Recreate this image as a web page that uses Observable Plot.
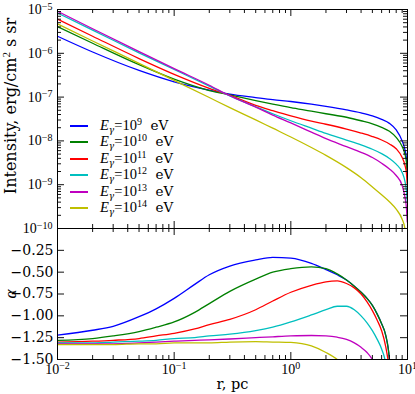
<!DOCTYPE html>
<html>
<head>
<meta charset="utf-8">
<script src="https://cdn.jsdelivr.net/npm/d3@7"></script>
<script src="https://cdn.jsdelivr.net/npm/@observablehq/plot@0.6"></script>
<style>
  html, body { margin: 0; padding: 0; background: #fff; }
  #fig { position: relative; width: 415px; height: 394px; overflow: hidden; font-family: "DejaVu Serif", serif; color: #000; }
  #fig svg { overflow: visible; background: transparent; }
  .lab { position: absolute; white-space: nowrap; line-height: 1; }
  .rot { transform: translate(-50%, -50%) rotate(-90deg); }
  .math { font-family: "Liberation Serif", serif; }
  #legend { position: absolute; left: 70px; top: 117.5px; }
  #legend .row { height: 16.5px; display: flex; align-items: center; }
  #legend .sw { display: inline-block; width: 18px; height: 1.6px; margin-right: 12px; }
  #legend .txt { font-size: 14.5px; line-height: 16.5px; white-space: nowrap; }
  #legend .sub { font-family: "DejaVu Serif", serif; font-style: italic; font-size: 9px; position: relative; top: 3px; }
  #legend .sup { font-size: 10px; position: relative; top: -5px; }
  #legend .ev { font-family: "DejaVu Serif", serif; font-size: 13.5px; }
</style>
</head>
<body>
<div id="fig">
  <div id="top" style="position:absolute;left:0;top:0"></div>
  <div id="bot" style="position:absolute;left:0;top:228px"></div>
  <div class="lab rot" style="left:10.5px;top:106px;font-size:16px;">Intensity, erg/cm<span class="math" style="font-size:11px;position:relative;top:-6px">2</span> s sr</div>
  <div class="lab rot math" style="left:10px;top:294px;font-size:17px;font-style:italic;">α</div>
  <div id="legend"></div>
</div>
<script>
// ---- data ----
const energyExponents = [9, 10, 11, 12, 13, 14];
const seriesColors = ["#0000ff", "#008000", "#ff0000", "#00bfbf", "#bf00bf", "#bfbf00"];

// radius grid (pc) for the intensity panel
const radius = [0.01, 0.02, 0.05, 0.1, 0.2, 0.3, 0.5, 0.7, 1, 1.5, 2, 3, 4, 5, 6, 7, 8, 9, 9.5, 9.8, 9.95];
// log10 intensity (erg/cm^2 s sr)
const logIntensityE9  = [-5.61,-5.97,-6.39,-6.65,-6.84,-6.93,-7.01,-7.06,-7.10,-7.16,-7.21,-7.29,-7.36,-7.43,-7.51,-7.60,-7.75,-8.00,-8.20,-8.40,-8.70];
const logIntensityE10 = [-5.39,-5.77,-6.26,-6.59,-6.85,-6.95,-7.08,-7.16,-7.24,-7.32,-7.38,-7.46,-7.54,-7.61,-7.69,-7.78,-7.92,-8.13,-8.30,-8.50,-8.80];
const logIntensityE11 = [-5.22,-5.61,-6.12,-6.48,-6.80,-6.96,-7.19,-7.31,-7.43,-7.55,-7.62,-7.73,-7.82,-7.90,-7.98,-8.07,-8.18,-8.38,-8.55,-8.75,-9.00];
const logIntensityE12 = [-5.08,-5.47,-5.99,-6.37,-6.75,-6.97,-7.22,-7.38,-7.54,-7.71,-7.83,-7.98,-8.09,-8.19,-8.29,-8.40,-8.53,-8.72,-8.92,-9.15,-9.40];
const logIntensityE13 = [-5.04,-5.44,-5.96,-6.35,-6.73,-6.97,-7.23,-7.41,-7.59,-7.80,-7.95,-8.13,-8.26,-8.38,-8.51,-8.64,-8.79,-9.02,-9.28,-9.55,-9.85];
const logIntensityE14 = [-5.33,-5.72,-6.23,-6.62,-7.01,-7.24,-7.52,-7.71,-7.91,-8.15,-8.33,-8.61,-8.84,-9.05,-9.23,-9.39,-9.56,-9.79,-10.0,-10.3,-10.6];

// radius grid (pc) for the alpha panel
const alphaRadius = [0.01, 0.02, 0.03, 0.05, 0.07, 0.1, 0.15, 0.2, 0.3, 0.5, 0.7, 1, 1.5, 2, 2.5, 3, 3.5, 4, 4.5, 5, 5.5, 6, 6.5, 7, 7.5];
const alphaE9  = [-1.22,-1.165,-1.12,-1.01,-0.92,-0.80,-0.64,-0.53,-0.43,-0.36,-0.33,-0.34,-0.40,-0.47,-0.53,-0.59,-0.66,-0.73,-0.80,-0.88,-0.98,-1.09,-1.22,-1.50,-2.20];
const alphaE10 = [-1.28,-1.26,-1.23,-1.18,-1.13,-1.07,-0.96,-0.86,-0.72,-0.58,-0.50,-0.46,-0.44,-0.46,-0.52,-0.59,-0.66,-0.73,-0.80,-0.88,-0.98,-1.09,-1.22,-1.50,-2.20];
const alphaE11 = [-1.30,-1.29,-1.28,-1.26,-1.23,-1.20,-1.15,-1.10,-1.04,-0.93,-0.83,-0.73,-0.65,-0.61,-0.60,-0.63,-0.68,-0.75,-0.84,-0.94,-1.05,-1.17,-1.35,-1.65,-2.30];
const alphaE12 = [-1.31,-1.31,-1.30,-1.29,-1.28,-1.26,-1.25,-1.23,-1.21,-1.17,-1.13,-1.07,-0.99,-0.93,-0.89,-0.89,-0.93,-1.00,-1.08,-1.17,-1.27,-1.38,-1.55,-2.00,-2.60];
const alphaE13 = [-1.32,-1.32,-1.32,-1.31,-1.30,-1.29,-1.28,-1.275,-1.265,-1.25,-1.24,-1.23,-1.225,-1.23,-1.245,-1.27,-1.31,-1.36,-1.42,-1.50,-1.62,-1.80,-2.00,-2.30,-2.60];
const alphaE14 = [-1.33,-1.33,-1.33,-1.32,-1.32,-1.31,-1.31,-1.31,-1.30,-1.295,-1.30,-1.305,-1.345,-1.42,-1.50,-1.60,-1.75,-1.90,-2.10,-2.30,-2.50,-2.70,-2.90,-3.10,-3.30];

// ticks
const xMajorTicks = [0.01, 0.1, 1, 10];
const xTickLabels = ["10^−2", "10^−1", "10^0", "10^1"];
const intensityTicks = [1e-10, 1e-9, 1e-8, 1e-7, 1e-6, 1e-5];
const intensityTickLabels = ["10^−10", "10^−9", "10^−8", "10^−7", "10^−6", "10^−5"];
const alphaTicks = [-1.5, -1.25, -1.0, -0.75, -0.5, -0.25, 0];
const alphaTickLabels = ["−1.50", "−1.25", "−1.00", "−0.75", "−0.50", "−0.25", ""];
const minorMultipliers = [2, 3, 4, 5, 6, 7, 8, 9];
const xAxisLabel = "r, pc";

// ---- build tables ----
const logIntensity = [logIntensityE9, logIntensityE10, logIntensityE11, logIntensityE12, logIntensityE13, logIntensityE14];
const alphas = [alphaE9, alphaE10, alphaE11, alphaE12, alphaE13, alphaE14];
const intensityRows = energyExponents.flatMap((e, k) => radius.map((r, i) => ({r, I: Math.pow(10, logIntensity[k][i]), e})));
const alphaRows = energyExponents.flatMap((e, k) => alphaRadius.map((r, i) => ({r, a: alphas[k][i], e})));
const xMinorTicks = xMajorTicks.slice(0, -1).flatMap(b => minorMultipliers.map(m => b * m));
const yMinorTicks = intensityTicks.slice(0, -1).flatMap(b => minorMultipliers.map(m => b * m));

const W = 415, ML = 57, MR = 8;
const innerW = W - ML - MR;
const topInnerH = 219, botInnerH = 131;
const MAJ = 7, MIN = 4;
const tickStroke = "#111";
const mathFont = "Liberation Serif, serif";
const textFont = "DejaVu Serif, serif";

function supify(svg) {
  svg.querySelectorAll("text").forEach(t => {
    const s = t.textContent;
    const i = s.indexOf("^");
    if (i < 0) return;
    t.textContent = "";
    t.appendChild(document.createTextNode(s.slice(0, i)));
    const ts = document.createElementNS("http://www.w3.org/2000/svg", "tspan");
    ts.setAttribute("dy", "-0.42em");
    ts.setAttribute("font-size", "10px");
    ts.textContent = s.slice(i + 1);
    t.appendChild(ts);
  });
}

function xTickMarks(innerH) {
  return [
    Plot.tickX(xMajorTicks, {x: d => d, insetTop: innerH - MAJ, stroke: tickStroke}),
    Plot.tickX(xMajorTicks, {x: d => d, insetBottom: innerH - MAJ, stroke: tickStroke}),
    Plot.tickX(xMinorTicks, {x: d => d, insetTop: innerH - MIN, stroke: tickStroke}),
    Plot.tickX(xMinorTicks, {x: d => d, insetBottom: innerH - MIN, stroke: tickStroke})
  ];
}

const color = {domain: energyExponents, range: seriesColors};

const topPlot = Plot.plot({
  width: W, height: 229,
  marginLeft: ML, marginRight: MR, marginTop: 9, marginBottom: 1,
  style: {fontFamily: textFont, fontSize: "14px", background: "transparent", overflow: "visible"},
  x: {type: "log", domain: [0.01, 10], axis: null},
  y: {type: "log", domain: [1e-10, 1e-5], axis: null},
  color,
  marks: [
    Plot.line(intensityRows, {x: "r", y: "I", z: "e", stroke: "e", strokeWidth: 1.3, curve: "monotone-x", clip: true}),
    ...xTickMarks(topInnerH),
    Plot.tickY(intensityTicks, {y: d => d, insetRight: innerW - MAJ, stroke: tickStroke}),
    Plot.tickY(intensityTicks, {y: d => d, insetLeft: innerW - MAJ, stroke: tickStroke}),
    Plot.tickY(yMinorTicks, {y: d => d, insetRight: innerW - MIN, stroke: tickStroke}),
    Plot.tickY(yMinorTicks, {y: d => d, insetLeft: innerW - MIN, stroke: tickStroke}),
    Plot.text(intensityTicks, {y: d => d, frameAnchor: "left", dx: -5, textAnchor: "end", text: (d, i) => intensityTickLabels[i], fontSize: 14, fontFamily: mathFont, fill: "#000"}),
    Plot.frame({stroke: "#000", strokeWidth: 1})
  ]
});
supify(topPlot);
document.getElementById("top").appendChild(topPlot);

const botPlot = Plot.plot({
  width: W, height: 166,
  marginLeft: ML, marginRight: MR, marginTop: 0, marginBottom: 35,
  style: {fontFamily: textFont, fontSize: "14px", background: "transparent", overflow: "visible"},
  x: {type: "log", domain: [0.01, 10], axis: null},
  y: {type: "linear", domain: [-1.5, 0], axis: null},
  color,
  marks: [
    Plot.line(alphaRows, {x: "r", y: "a", z: "e", stroke: "e", strokeWidth: 1.3, curve: "monotone-x", clip: true}),
    ...xTickMarks(botInnerH),
    Plot.tickY(alphaTicks, {y: d => d, insetRight: innerW - MAJ, stroke: tickStroke}),
    Plot.tickY(alphaTicks, {y: d => d, insetLeft: innerW - MAJ, stroke: tickStroke}),
    Plot.text(alphaTicks, {y: d => d, frameAnchor: "left", dx: -4, textAnchor: "end", text: (d, i) => alphaTickLabels[i], fontSize: 14, fontFamily: textFont, fill: "#000"}),
    Plot.text(xMajorTicks, {x: d => d, frameAnchor: "bottom", dy: 14, lineAnchor: "bottom", textAnchor: "middle", text: (d, i) => xTickLabels[i], fontSize: 14, fontFamily: mathFont, fill: "#000"}),
    Plot.text([xAxisLabel], {frameAnchor: "bottom", dy: 29.5, lineAnchor: "bottom", textAnchor: "middle", text: d => d, fontSize: 14.5, fontFamily: textFont, fill: "#000"}),
    Plot.frame({stroke: "#000", strokeWidth: 1})
  ]
});
supify(botPlot);
document.getElementById("bot").appendChild(botPlot);

// legend
const legend = document.getElementById("legend");
energyExponents.forEach((e, k) => {
  const row = document.createElement("div");
  row.className = "row";
  row.innerHTML = `<span class="sw" style="background:${seriesColors[k]}"></span><span class="txt math"><i>E</i><span class="sub">γ</span>=10<span class="sup">${e}</span><span class="ev">&nbsp; eV</span></span>`;
  legend.appendChild(row);
});
</script>
</body>
</html>
